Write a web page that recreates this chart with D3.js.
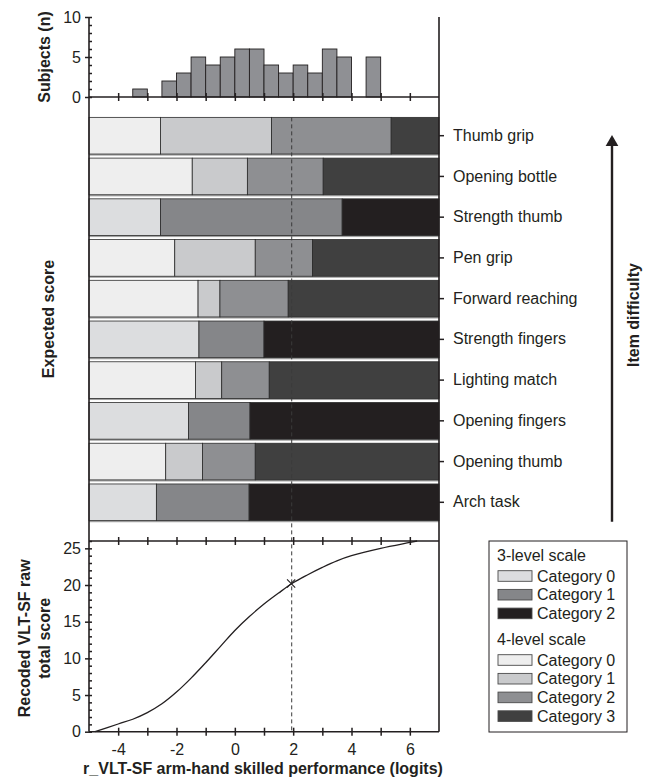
<!DOCTYPE html>
<html>
<head>
<meta charset="utf-8">
<script src="https://cdn.jsdelivr.net/npm/d3@7"></script>
<style>
body { margin: 0; background: #fff; }
text { font-family: "Liberation Sans", Arial, Helvetica, sans-serif; fill: #231f20; }
.title { font-weight: bold; font-size: 16px; }
.axis text { font-size: 16px; }
.axis path.domain { display: none; }
.axis line { stroke: #231f20; stroke-width: 1.5; }
.frame { stroke: #231f20; stroke-width: 1.6; fill: none; }
</style>
</head>
<body>
<svg width="654" height="782"></svg>
<script>
// histogram of subjects (bin start in logits, width 0.5)
const histBins = [-3.5, -2.5, -2, -1.5, -1, -0.5, 0, 0.5, 1, 1.5, 2, 2.5, 3, 3.5, 4.5]
const histCounts = [1, 2, 3, 5, 4, 5, 6, 6, 4, 3, 4, 3, 6, 5, 5]

// items, top to bottom, with their category thresholds
const items = ["Thumb grip", "Opening bottle", "Strength thumb", "Pen grip", "Forward reaching",
               "Strength fingers", "Lighting match", "Opening fingers", "Opening thumb", "Arch task"]
const thresholds = [
    [-2.55, 1.26, 5.36],
    [-1.46, 0.43, 3.03],
    [-2.55, 3.68],
    [-2.06, 0.70, 2.66],
    [-1.26, -0.51, 1.83],
    [-1.23, 1.00],
    [-1.35, -0.45, 1.18],
    [-1.59, 0.52],
    [-2.37, -1.11, 0.70],
    [-2.69, 0.49]
]

// expected raw score curve
const curveLogits = [-4.79, -4, -3.5, -3, -2.5, -2, -1.5, -1, -0.5, 0, 0.5, 1, 1.5, 2, 2.5, 3, 3.5, 4, 5, 6, 6.25]
const curveScores = [0, 1.05, 1.7, 2.6, 3.8, 5.4, 7.3, 9.4, 11.6, 13.8, 15.7, 17.4, 18.9, 20.3, 21.4, 22.4, 23.3, 24.0, 25.0, 25.8, 26]

const cutLogit = 1.95
const markLogit = 1.93
const markScore = 20.2

const xTicks = [-4, -3, -2, -1, 0, 1, 2, 3, 4, 5, 6]
const xLabels = [-4, -2, 0, 2, 4, 6]
const histTicks = [0, 5, 10]
const scoreTicks = [0, 5, 10, 15, 20, 25]

const legend3 = ["Category 0", "Category 1", "Category 2"]
const legend4 = ["Category 0", "Category 1", "Category 2", "Category 3"]
const colors3 = ["#dcdddf", "#858689", "#231f20"]
const colors4 = ["#eeeeee", "#c9cacc", "#8e8f92", "#404040"]

const svg = d3.select("svg")

const x = d3.scaleLinear().domain([-5, 7]).range([89, 439])
const yHist = d3.scaleLinear().domain([0, 10]).range([97, 17])
const yItem = d3.scaleBand().domain(items).range([97, 541]).paddingInner(0.1).paddingOuter(0.5)
const yScore = d3.scaleLinear().domain([0, 26]).range([731.7, 541])

// ---- histogram
svg.selectAll("rect.hist")
    .data(histBins)
    .enter()
    .append("rect")
    .attr("class", "hist")
    .attr("x", d => x(d))
    .attr("width", d => x(d + 0.5) - x(d))
    .attr("y", (d, i) => yHist(histCounts[i]))
    .attr("height", (d, i) => yHist(0) - yHist(histCounts[i]))
    .attr("fill", "#8f9094")
    .attr("stroke", "#231f20")
    .attr("stroke-width", 0.9)

// ---- item bars
const rows = svg.selectAll("g.item")
    .data(items)
    .enter()
    .append("g")
    .attr("class", "item")
    .attr("transform", d => `translate(0, ${yItem(d)})`)

rows.append("rect")
    .attr("x", x(-5))
    .attr("y", 1.6)
    .attr("width", x(7) - x(-5))
    .attr("height", yItem.bandwidth())
    .attr("fill", "#a3a3a3")

rows.each(function(d, i) {
    const cuts = [-5].concat(thresholds[i]).concat([7])
    const cols = thresholds[i].length == 3 ? colors4 : colors3
    d3.select(this).selectAll("rect.seg")
        .data(d3.range(cuts.length - 1))
        .enter()
        .append("rect")
        .attr("class", "seg")
        .attr("x", k => x(cuts[k]))
        .attr("width", k => x(cuts[k + 1]) - x(cuts[k]))
        .attr("y", 0)
        .attr("height", yItem.bandwidth())
        .attr("fill", k => cols[k])
        .attr("stroke", "#2b2b2b")
        .attr("stroke-width", 0.8)
})

// ---- curve
const line = d3.line()
    .x(d => x(d[0]))
    .y(d => yScore(d[1]))
    .curve(d3.curveCatmullRom.alpha(0.5))

svg.append("path")
    .datum(curveLogits.map((d, i) => [d, curveScores[i]]))
    .attr("d", line)
    .attr("fill", "none")
    .attr("stroke", "#231f20")
    .attr("stroke-width", 1.3)

// dashed cut line
svg.append("line")
    .attr("x1", x(cutLogit)).attr("x2", x(cutLogit))
    .attr("y1", yItem(items[0])).attr("y2", yScore(0))
    .attr("stroke", "#3a3a3a")
    .attr("stroke-width", 1)
    .attr("stroke-dasharray", "4,3")

svg.append("path")
    .attr("d", d3.symbol().type(d3.symbolX).size(45)())
    .attr("transform", `translate(${x(markLogit)}, ${yScore(markScore)})`)
    .attr("fill", "none")
    .attr("stroke", "#231f20")
    .attr("stroke-width", 1.1)

// ---- frame
svg.append("line").attr("class", "frame")
    .attr("x1", x(-5)).attr("x2", x(-5)).attr("y1", yHist(10)).attr("y2", yScore(0))
svg.append("line").attr("class", "frame")
    .attr("x1", x(7)).attr("x2", x(7)).attr("y1", yHist(10)).attr("y2", yScore(0))
svg.append("line").attr("class", "frame")
    .attr("x1", x(-5)).attr("x2", x(7)).attr("y1", yHist(0)).attr("y2", yHist(0))
svg.append("line").attr("class", "frame")
    .attr("x1", x(-5)).attr("x2", x(7)).attr("y1", yScore(26)).attr("y2", yScore(26))
svg.append("line").attr("class", "frame")
    .attr("x1", x(-5)).attr("x2", x(7)).attr("y1", yScore(0)).attr("y2", yScore(0))

// ---- axes
const crossTicks = g => g.selectAll(".tick line").attr("y1", -4).attr("y2", 4)

svg.append("g").attr("class", "axis")
    .attr("transform", `translate(0, ${yHist(0)})`)
    .call(d3.axisBottom(x).tickValues(xTicks).tickFormat("").tickSize(0))
    .call(crossTicks)

svg.append("g").attr("class", "axis")
    .attr("transform", `translate(0, ${yScore(26)})`)
    .call(d3.axisBottom(x).tickValues(xTicks).tickFormat("").tickSize(0))
    .call(crossTicks)

svg.append("g").attr("class", "axis")
    .attr("transform", `translate(0, ${yScore(0)})`)
    .call(d3.axisBottom(x).tickValues(xTicks)
        .tickFormat(d => xLabels.includes(d) ? d : "")
        .tickSize(4).tickPadding(8))
    .call(crossTicks)

svg.append("g").attr("class", "axis")
    .attr("transform", `translate(${x(-5)}, 0)`)
    .call(d3.axisLeft(yHist).tickValues(histTicks).tickSize(4).tickPadding(4))
svg.append("g").attr("class", "axis")
    .attr("transform", `translate(${x(-5)}, 0)`)
    .call(d3.axisRight(yHist).tickValues(d3.range(0, 11)).tickFormat("").tickSize(3))

svg.append("g").attr("class", "axis")
    .attr("transform", `translate(${x(-5)}, 0)`)
    .call(d3.axisLeft(yScore).tickValues(scoreTicks).tickSize(4).tickPadding(4))
svg.append("g").attr("class", "axis")
    .attr("transform", `translate(${x(-5)}, 0)`)
    .call(d3.axisRight(yScore).tickValues(d3.range(0, 27)).tickFormat("").tickSize(3))

svg.append("g").attr("class", "axis")
    .attr("transform", `translate(${x(7)}, 0)`)
    .call(d3.axisRight(yItem).tickSize(5).tickPadding(9))

// ---- titles
svg.append("text").attr("class", "title")
    .attr("transform", `translate(44, ${yHist(5)}) rotate(-90)`)
    .attr("text-anchor", "middle").attr("dy", "0.35em")
    .text("Subjects (n)")

svg.append("text").attr("class", "title")
    .attr("transform", `translate(48, ${(yHist(0) + yScore(26)) / 2}) rotate(-90)`)
    .attr("text-anchor", "middle").attr("dy", "0.35em")
    .text("Expected score")

const scoreTitle = svg.append("text").attr("class", "title")
    .attr("transform", `translate(24, ${yScore(13) + 2}) rotate(-90)`)
    .attr("text-anchor", "middle")
scoreTitle.append("tspan").attr("x", 0).attr("dy", "0.35em").text("Recoded VLT-SF raw")
scoreTitle.append("tspan").attr("x", 0).attr("dy", "1.25em").text("total score")

svg.append("text").attr("class", "title")
    .attr("x", (x(-5) + x(7)) / 2 - 1)
    .attr("y", 774)
    .attr("text-anchor", "middle")
    .text("r_VLT-SF arm-hand skilled performance (logits)")

svg.append("text").attr("class", "title")
    .attr("transform", `translate(633, ${(yHist(0) + yScore(26)) / 2 - 4}) rotate(-90)`)
    .attr("text-anchor", "middle").attr("dy", "0.35em")
    .text("Item difficulty")

// arrow
svg.append("line")
    .attr("x1", 612).attr("x2", 612)
    .attr("y1", yItem(items[items.length - 1]) + yItem.bandwidth() + 1)
    .attr("y2", yItem(items[0]) + 28)
    .attr("stroke", "#231f20").attr("stroke-width", 2.4)
svg.append("path")
    .attr("d", d3.symbol().type(d3.symbolTriangle).size(70)())
    .attr("transform", `translate(612, ${yItem(items[0]) + 25})`)
    .attr("fill", "#231f20")

// ---- legend
const lg = svg.append("g").attr("transform", "translate(489, 541)")
lg.append("rect")
    .attr("width", 138).attr("height", 191)
    .attr("fill", "#fff").attr("stroke", "#231f20").attr("stroke-width", 1)

function legendBlock(title, labels, cols, top) {
    lg.append("text").attr("x", 8).attr("y", top).attr("dy", "0.35em")
        .style("font-size", "16px").text(title)
    labels.forEach((l, i) => {
        const cy = top + 21 + i * 18.7
        lg.append("rect")
            .attr("x", 9).attr("y", cy - 5.3).attr("width", 34).attr("height", 10.6)
            .attr("fill", cols[i]).attr("stroke", "#4a4a4a").attr("stroke-width", 0.9)
        lg.append("text").attr("x", 48).attr("y", cy).attr("dy", "0.35em")
            .style("font-size", "16px").text(l)
    })
}
legendBlock("3-level scale", legend3, colors3, 14)
legendBlock("4-level scale", legend4, colors4, 98)
</script>
</body>
</html>
